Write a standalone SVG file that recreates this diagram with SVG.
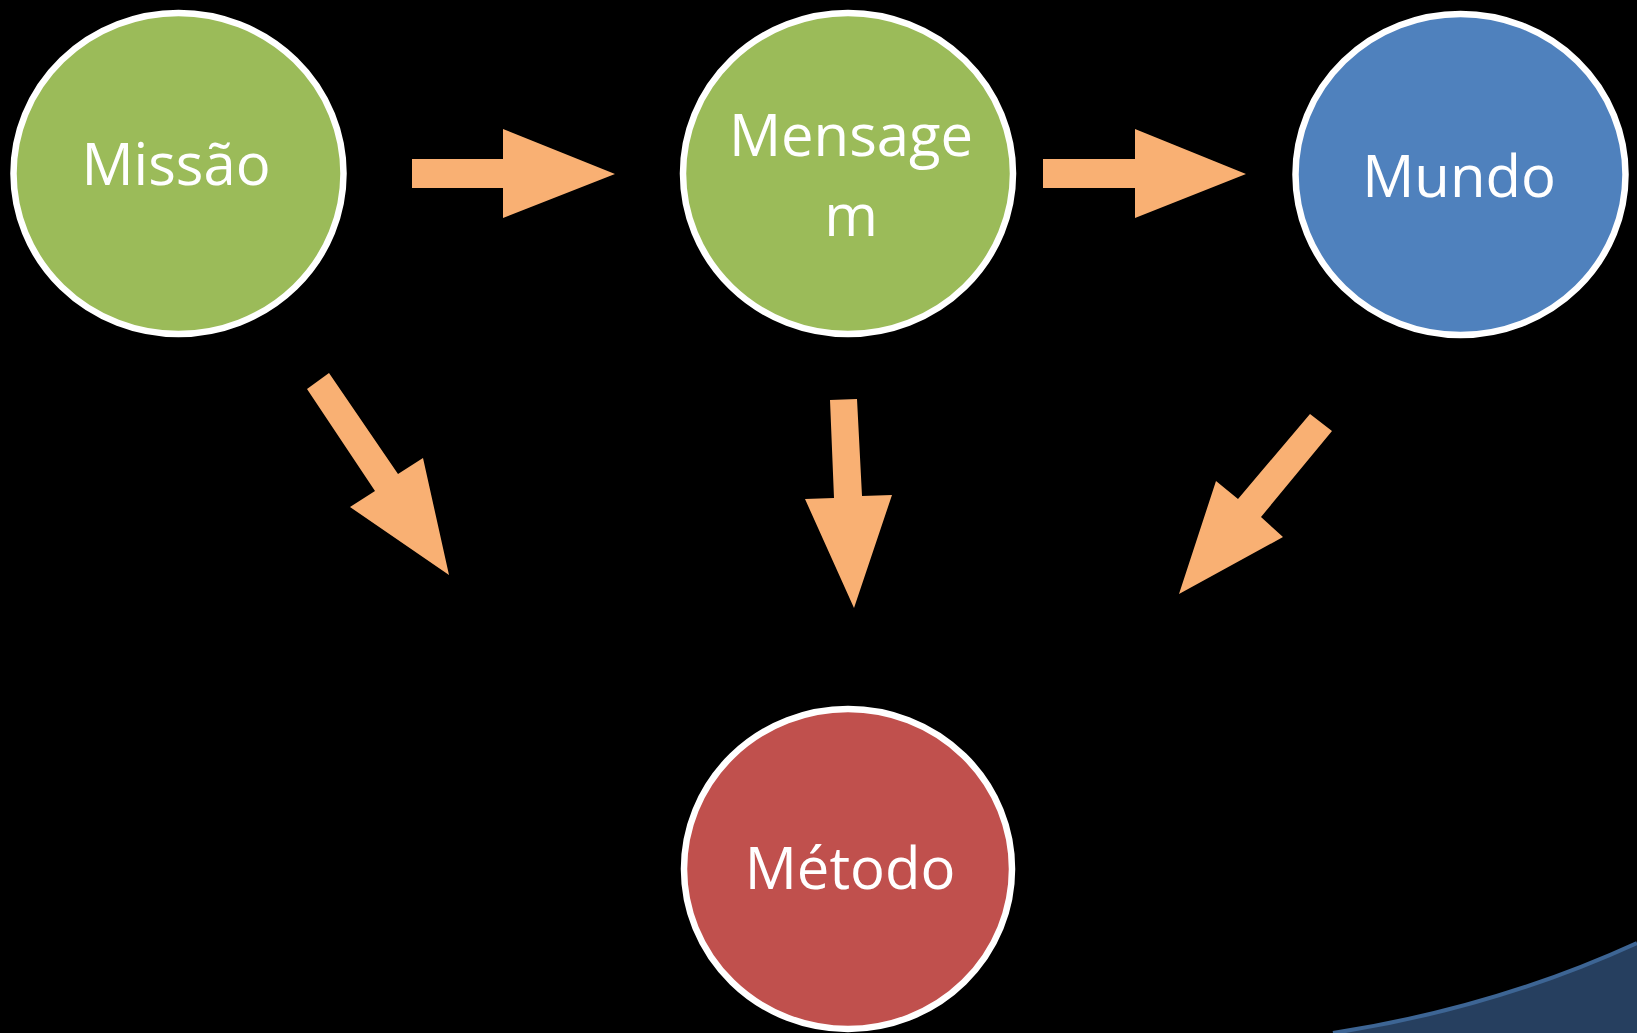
<svg xmlns="http://www.w3.org/2000/svg" width="1637" height="1033" viewBox="0 0 1637 1033">
<style>
.node{stroke:#FFFFFF;stroke-width:6.5}
.lbl{font-family:"Open Sans","Liberation Sans",sans-serif;font-size:58px;fill:#FFFFFF;text-anchor:middle}
.arrow{fill:#F9B073;stroke:none}
</style>
<rect x="0" y="0" width="1637" height="1033" fill="#000000"/>
<g id="swoosh">
<path d="M1333,1033 Q1495,1008 1637,943 L1637,1033 Z" fill="#263F5F"/>
<path d="M1333,1033 Q1495,1008 1637,943" fill="none" stroke="#3D6594" stroke-width="4"/>
</g>
<g id="connectors">
<polygon class="arrow" points="412,159 503,159 503,129 615,174 503,218 503,188 412,188"/>
<polygon class="arrow" points="1043,159 1135,159 1135,129 1246,174 1135,218 1135,188 1043,188"/>
<polygon class="arrow" points="307,389 329,373 398,474 423,458 449,575 350,507 375,491"/>
<polygon class="arrow" points="830,400 857,399 862,496 892,495 854,608 805,499 834,498"/>
<polygon class="arrow" points="1310,414 1332,431 1261,517 1283,537 1179,594 1216,481 1238,499"/>
</g>
<g id="missao">
<ellipse class="node" cx="178.5" cy="173.5" rx="165" ry="160.5" fill="#9BBB59"/>
<text class="lbl" x="176" y="185">Missão</text>
</g>
<g id="mensagem">
<ellipse class="node" cx="848" cy="173.5" rx="165" ry="160.5" fill="#9BBB59"/>
<text class="lbl" x="851" y="156">Mensage</text>
<text class="lbl" x="851" y="236">m</text>
</g>
<g id="mundo">
<ellipse class="node" cx="1460.5" cy="174.5" rx="165" ry="160.5" fill="#4F81BD"/>
<text class="lbl" x="1459" y="197">Mundo</text>
</g>
<g id="metodo">
<ellipse class="node" cx="848" cy="869" rx="164" ry="160" fill="#C0504D"/>
<text class="lbl" x="850" y="889">Método</text>
</g>
</svg>
